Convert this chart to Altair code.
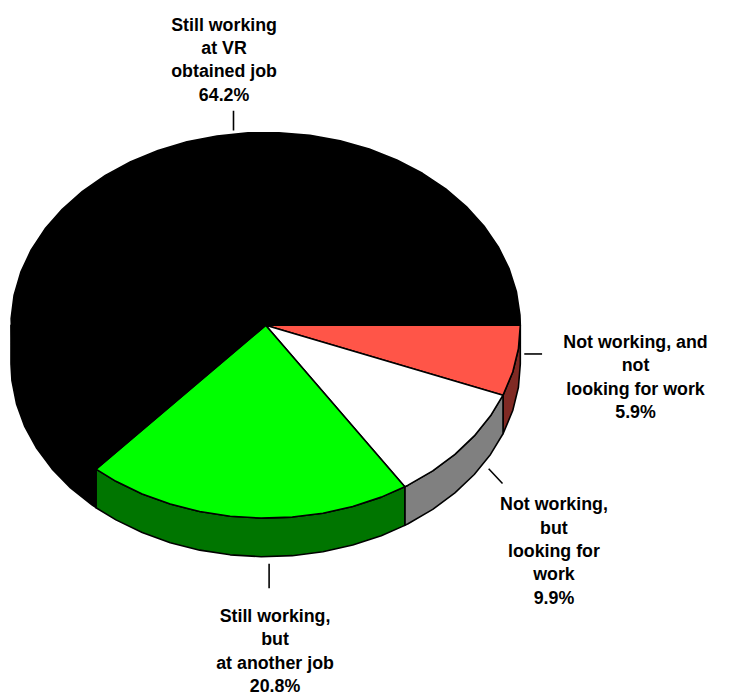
import math
import altair as alt

# Values
labels = [
    "Not working, and\nnot\nlooking for work\n5.9%",
    "Not working,\nbut\nlooking for\nwork\n9.9%",
    "Still working,\nbut\nat another job\n20.8%",
    "Still working\nat VR\nobtained job\n64.2%",
]
shares = [5.9, 9.9, 20.8, 64.2]
top_colors = ["#ff5548", "#ffffff", "#00ff00", "#000000"]
side_colors = ["#802a24", "#808080", "#007500", "#000000"]

# Layout (page pixels minus the 8px page margin)
OFF = 8
CX, CY, RX, RY, DEPTH = 268.5 - OFF, 325 - OFF, 257.5, 195, 39
STEP = 7.0
label_x = [642.5, 560, 278, 226.5]
label_y = [348, 512, 625, 27]
tick_lines = [
    [(530, 354), (548, 354)],
    [(494, 470), (508, 485)],
    [(272, 566), (272, 591)],
    [(236, 108), (236, 128)],
]


def pt(deg, dy=0.0):
    t = math.radians(deg)
    return [CX + RX * math.cos(t), CY + RY * math.sin(t) + dy]


def arc(a, b, dy=0.0):
    out = [a]
    d = math.ceil(a / STEP + 1e-9) * STEP
    while d < b - 1e-9:
        out.append(d)
        d += STEP
    out.append(b)
    return [pt(v, dy) for v in out]


def poly(ring, fill):
    ring = ring + [ring[0]]
    return {
        "type": "Feature",
        "properties": {"fill": fill},
        "geometry": {"type": "Polygon", "coordinates": [ring]},
    }


edges = [0.0]
for s in shares:
    edges.append(edges[-1] + s * 3.6)
edges[-1] = 360.0

features = []
for i in range(len(shares)):
    a, b = edges[i], min(edges[i + 1], 180.0)
    if a < 180:
        features.append(poly(arc(a, b) + arc(a, b, DEPTH)[::-1], side_colors[i]))
for i in range(len(shares)):
    a, b = edges[i], edges[i + 1]
    features.append(poly([[CX, CY]] + arc(a, b), top_colors[i]))

line_features = [
    {
        "type": "Feature",
        "properties": {},
        "geometry": {
            "type": "LineString",
            "coordinates": [[x - OFF, y - OFF] for x, y in seg],
        },
    }
    for seg in tick_lines
]

proj = alt.Projection(type="identity", scale=1, translate=[0, 0])

pie = (
    alt.Chart(alt.Data(values=features))
    .mark_geoshape(stroke="#000000", strokeWidth=1.6, strokeJoin="round")
    .encode(fill=alt.Fill("properties.fill:N", scale=None, legend=None))
    .project(**proj.to_dict())
)
ticks = (
    alt.Chart(alt.Data(values=line_features))
    .mark_geoshape(filled=False, stroke="#000000", strokeWidth=1.6)
    .project(**proj.to_dict())
)
text_rows = [
    {"label": t, "px": x - OFF, "py": y - OFF}
    for t, x, y in zip(labels, label_x, label_y)
]
text = (
    alt.Chart(alt.Data(values=text_rows))
    .mark_text(
        font="Liberation Sans",
        fontWeight="bold",
        fontSize=18,
        lineBreak="\n",
        lineHeight=23.6,
        align="center",
        baseline="alphabetic",
        color="#000000",
    )
    .encode(
        x=alt.X("px:Q", scale=None),
        y=alt.Y("py:Q", scale=None),
        text="label:N",
    )
)

chart = (
    alt.layer(pie, ticks, text)
    .properties(width=729, height=686, padding=0, autosize=alt.AutoSizeParams(type="none"))
    .configure_view(stroke=None)
)
chart.save("out.html", embed_options={"renderer": "svg", "actions": False})
